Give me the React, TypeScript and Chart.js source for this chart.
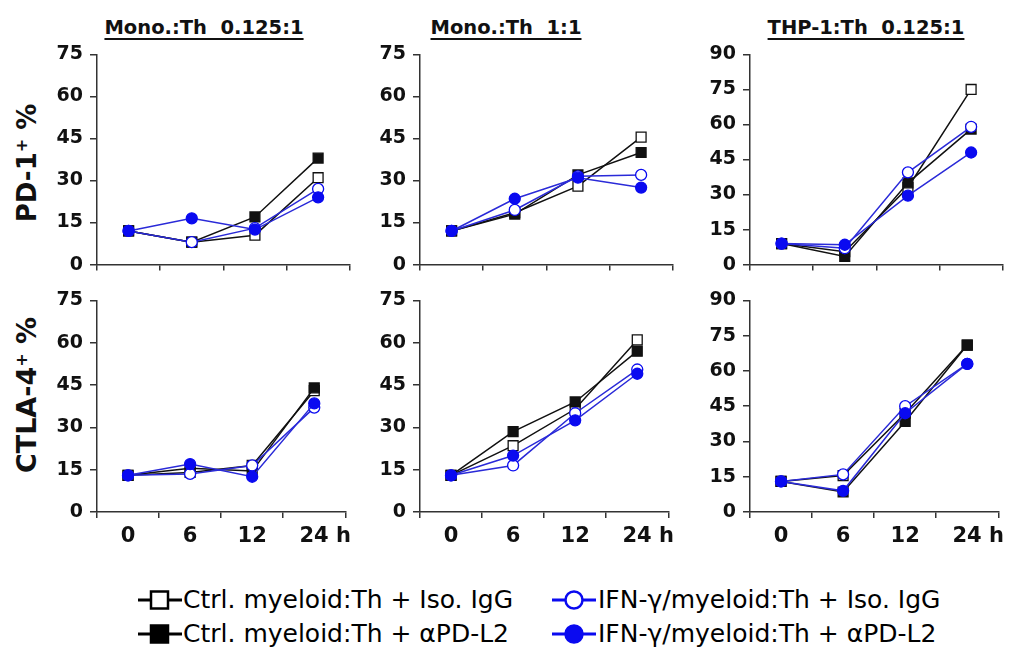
import React, { useEffect, useRef } from "react";
import { Chart, registerables } from "chart.js";

Chart.register(...registerables);

// ---------- data ----------
const timepoints = ["0", "6", "12", "24"];
const yTicksStep = 15;

const panelTitles = ["Mono.:Th  0.125:1", "Mono.:Th  1:1", "THP-1:Th  0.125:1"];
const seriesNames = [
  "Ctrl. myeloid:Th + Iso. IgG",
  "Ctrl. myeloid:Th + αPD-L2",
  "IFN-γ/myeloid:Th + Iso. IgG",
  "IFN-γ/myeloid:Th + αPD-L2",
];

// PD-1+ % (top row)
const pd1MonoLowCtrlIso = [12, 8, 10.5, 31];
const pd1MonoLowCtrlPDL2 = [12, 8, 17, 38];
const pd1MonoLowIfnIso = [12, 8, 13, 27];
const pd1MonoLowIfnPDL2 = [12, 16.5, 12.5, 24];

const pd1MonoHighCtrlIso = [12, 18.5, 28, 45.5];
const pd1MonoHighCtrlPDL2 = [12, 18, 32, 40];
const pd1MonoHighIfnIso = [12, 19.5, 31.5, 32];
const pd1MonoHighIfnPDL2 = [12, 23.5, 31, 27.5];

const pd1ThpCtrlIso = [9, 5.5, 33, 75];
const pd1ThpCtrlPDL2 = [9, 3.5, 35, 58];
const pd1ThpIfnIso = [9, 7, 39.5, 59];
const pd1ThpIfnPDL2 = [9, 8.5, 29.5, 48];

// CTLA-4+ % (bottom row)
const ctlaMonoLowCtrlIso = [13, 14, 16.5, 43];
const ctlaMonoLowCtrlPDL2 = [13, 15.5, 14.5, 44];
const ctlaMonoLowIfnIso = [13, 13.5, 16.5, 37];
const ctlaMonoLowIfnPDL2 = [13, 17, 12.5, 38.5];

const ctlaMonoHighCtrlIso = [13, 23.5, 36.5, 61];
const ctlaMonoHighCtrlPDL2 = [13, 28.5, 39, 57];
const ctlaMonoHighIfnIso = [13, 16.5, 35, 50.5];
const ctlaMonoHighIfnPDL2 = [13, 20, 32.5, 49];

const ctlaThpCtrlIso = [13, 15.5, 42, 71];
const ctlaThpCtrlPDL2 = [13, 8.5, 38.5, 71];
const ctlaThpIfnIso = [13, 16, 45, 63];
const ctlaThpIfnPDL2 = [13, 9, 42, 63];

const yMaxMono = 75;
const yMaxThp = 90;

// ---------- styles ----------
const FONT = "'DejaVu Sans', sans-serif";
const AXIS = "#333333";
const BLACK = "#111111";
const BLUE_LINE = "#2a2ad8";
const BLUE = "#0a0af0";

const PLOT_LEFTS = [97, 420, 750];
const PLOT_W = 253;
const Y_W = 58;
const PAD_TOP = 14;
const TOP_OFF = 17; // measured offset of chart area inside the canvas
const PAD_RIGHT = 8;

type PanelProps = {
  left: number;
  plotTop: number;
  plotH: number;
  xH: number;
  bottomGap: number;
  showX: boolean;
  yMax: number;
  series: number[][];
};

function Panel({ left, plotTop, plotH, xH, bottomGap, showX, yMax, series }: PanelProps) {
  const ref = useRef<HTMLCanvasElement | null>(null);
  const width = Y_W + PLOT_W + PAD_RIGHT;
  const height = TOP_OFF + plotH + bottomGap;
  const top = plotTop - TOP_OFF;

  useEffect(() => {
    if (!ref.current) return;
    const styles = [
      { border: BLACK, bg: "#ffffff", line: BLACK, style: "rect", r: 7, order: 3 },
      { border: BLACK, bg: BLACK, line: BLACK, style: "rect", r: 7, order: 2 },
      { border: BLUE, bg: "#ffffff", line: BLUE_LINE, style: "circle", r: 5.5, order: 1 },
      { border: BLUE, bg: BLUE, line: BLUE_LINE, style: "circle", r: 5.5, order: 0 },
    ];
    const chart = new Chart(ref.current, {
      type: "line",
      data: {
        labels: timepoints,
        datasets: series.map((d, i) => ({
          label: seriesNames[i],
          data: d,
          borderColor: styles[i].line,
          borderWidth: 1.5,
          pointStyle: styles[i].style as any,
          pointRadius: styles[i].r,
          pointBorderColor: styles[i].border,
          pointBackgroundColor: styles[i].bg,
          pointBorderWidth: 1.3,
          order: styles[i].order,
          tension: 0,
        })),
      },
      options: {
        animation: false,
        responsive: false,
        events: [],
        layout: { padding: { top: PAD_TOP, right: PAD_RIGHT, left: 0, bottom: 0 } },
        plugins: { legend: { display: false }, tooltip: { enabled: false }, title: { display: false } },
        scales: {
          x: {
            type: "category",
            offset: true,
            grid: {
              offset: true,
              drawOnChartArea: false,
              drawTicks: true,
              tickLength: 6,
              color: AXIS,
              lineWidth: 1.5,
            },
            border: { display: true, color: AXIS, width: 1.5 },
            ticks: {
              display: showX,
              autoSkip: false,
              maxRotation: 0,
              padding: 6,
              color: BLACK,
              font: { family: FONT, size: 21, weight: "bold" },
              callback: (_v: any, i: number) =>
                i === timepoints.length - 1 ? `   ${timepoints[i]} h` : timepoints[i],
            },
            afterFit: (s: any) => {
              s.height = xH;
            },
          },
          y: {
            min: 0,
            max: yMax,
            ticks: {
              stepSize: yTicksStep,
              padding: 7,
              color: BLACK,
              font: { family: FONT, size: 19, weight: "bold" },
            },
            grid: {
              drawOnChartArea: false,
              drawTicks: true,
              tickLength: 7,
              color: AXIS,
              lineWidth: 1.5,
            },
            border: { display: true, color: AXIS, width: 1.5 },
            afterFit: (s: any) => {
              s.width = Y_W;
            },
          },
        },
      },
    });
    return () => chart.destroy();
  }, []);

  return (
    <canvas
      ref={ref}
      width={width}
      height={height}
      style={{ position: "absolute", left, top, width, height }}
    />
  );
}

function LegendMarker({ kind }: { kind: number }) {
  const isSquare = kind < 2;
  const filled = kind % 2 === 1;
  const col = isSquare ? "#000" : BLUE;
  return (
    <svg width={46} height={24} style={{ position: "absolute", left: 0, top: 0 }}>
      <line x1={1} y1={12} x2={45} y2={12} stroke={col} strokeWidth={3} />
      {isSquare ? (
        <rect x={14} y={3.5} width={17} height={17} fill={filled ? "#000" : "#fff"} stroke="#000" strokeWidth={2.5} />
      ) : (
        <circle cx={23} cy={12} r={8.5} fill={filled ? BLUE : "#fff"} stroke={BLUE} strokeWidth={2.5} />
      )}
    </svg>
  );
}

export default function App() {
  const topSeries = [
    [pd1MonoLowCtrlIso, pd1MonoLowCtrlPDL2, pd1MonoLowIfnIso, pd1MonoLowIfnPDL2],
    [pd1MonoHighCtrlIso, pd1MonoHighCtrlPDL2, pd1MonoHighIfnIso, pd1MonoHighIfnPDL2],
    [pd1ThpCtrlIso, pd1ThpCtrlPDL2, pd1ThpIfnIso, pd1ThpIfnPDL2],
  ];
  const bottomSeries = [
    [ctlaMonoLowCtrlIso, ctlaMonoLowCtrlPDL2, ctlaMonoLowIfnIso, ctlaMonoLowIfnPDL2],
    [ctlaMonoHighCtrlIso, ctlaMonoHighCtrlPDL2, ctlaMonoHighIfnIso, ctlaMonoHighIfnPDL2],
    [ctlaThpCtrlIso, ctlaThpCtrlPDL2, ctlaThpIfnIso, ctlaThpIfnPDL2],
  ];
  const yMaxes = [yMaxMono, yMaxMono, yMaxThp];
  const titleCenters = [204, 506, 866];
  const legendPos = [
    { x: 137, y: 600, tx: 183 },
    { x: 137, y: 634, tx: 183 },
    { x: 551, y: 600, tx: 598 },
    { x: 551, y: 634, tx: 598 },
  ];

  return (
    <div
      style={{
        position: "absolute",
        left: 0,
        top: 0,
        width: 1013,
        height: 651,
        background: "#fff",
        overflow: "hidden",
        fontFamily: FONT,
        color: "#111",
      }}
    >
      {panelTitles.map((t, i) => (
        <div
          key={"t" + i}
          style={{
            position: "absolute",
            left: titleCenters[i],
            top: 16,
            transform: "translateX(-50%)",
            fontSize: 19.5,
            fontWeight: "bold",
            lineHeight: "23px",
            whiteSpace: "pre",
            textDecoration: "underline",
            textDecorationThickness: "2px",
            textUnderlineOffset: "4px",
          }}
        >
          {t}
        </div>
      ))}

      {[
        { label: "PD-1", cy: 163, fs: 26 },
        { label: "CTLA-4", cy: 395, fs: 27 },
      ].map((a, i) => (
        <div
          key={"y" + i}
          style={{
            position: "absolute",
            left: 27,
            top: a.cy,
            transform: "translate(-50%, -50%) rotate(-90deg)",
            fontSize: a.fs,
            fontWeight: "bold",
            whiteSpace: "nowrap",
            lineHeight: "30px",
          }}
        >
          {a.label}
          <sup style={{ fontSize: 16, verticalAlign: "9px", lineHeight: 0 }}>+</sup> %
        </div>
      ))}

      {PLOT_LEFTS.map((pl, i) => (
        <Panel
          key={"top" + i}
          left={pl - Y_W}
          plotTop={53}
          plotH={210}
          xH={8}
          bottomGap={20}
          showX={false}
          yMax={yMaxes[i]}
          series={topSeries[i]}
        />
      ))}
      {PLOT_LEFTS.map((pl, i) => (
        <Panel
          key={"bot" + i}
          left={pl - Y_W}
          plotTop={299}
          plotH={211}
          xH={45}
          bottomGap={47}
          showX={true}
          yMax={yMaxes[i]}
          series={bottomSeries[i]}
        />
      ))}

      {seriesNames.map((n, i) => (
        <React.Fragment key={"l" + i}>
          <div style={{ position: "absolute", left: legendPos[i].x, top: legendPos[i].y - 12, width: 46, height: 24 }}>
            <LegendMarker kind={i} />
          </div>
          <div
            style={{
              position: "absolute",
              left: legendPos[i].tx,
              top: legendPos[i].y - 15,
              fontSize: 25,
              lineHeight: "29px",
              whiteSpace: "nowrap",
              color: "#000",
            }}
          >
            {n}
          </div>
        </React.Fragment>
      ))}
    </div>
  );
}
